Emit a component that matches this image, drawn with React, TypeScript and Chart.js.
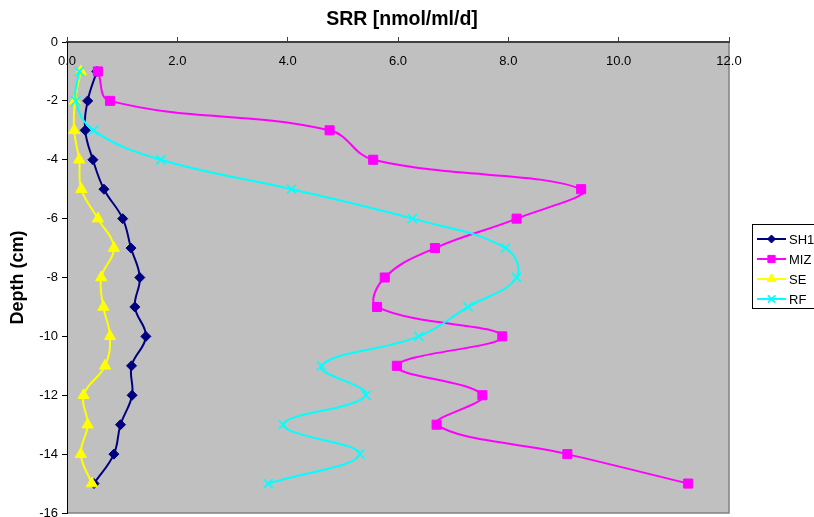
import React, { useEffect, useRef } from "react";
import { Chart, registerables, PointElement } from "chart.js";

Chart.register(...registerables);

const FONT = "Arial, 'Liberation Sans', sans-serif";

const depths = [-1, -2, -3, -4, -5, -6, -7, -8, -9, -10, -11, -12, -13, -14, -15];
const sh1 = [0.54, 0.375, 0.33, 0.47, 0.67, 1.01, 1.16, 1.32, 1.23, 1.43, 1.17, 1.18, 0.97, 0.85, 0.49];
const miz = [0.56, 0.78, 4.76, 5.55, 9.32, 8.15, 6.67, 5.76, 5.62, 7.89, 5.98, 7.53, 6.7, 9.07, 11.26];
const se = [0.25, 0.145, 0.13, 0.22, 0.26, 0.56, 0.85, 0.62, 0.66, 0.78, 0.69, 0.3, 0.375, 0.25, 0.45];
const rf = [0.22, 0.16, 0.48, 1.7, 4.07, 6.26, 7.95, 8.15, 7.27, 6.38, 4.61, 5.42, 3.92, 5.31, 3.65];

const seriesNames = ["SH1", "MIZ", "SE", "RF"];
const seriesValues = [sh1, miz, se, rf];
const seriesColors = ["#000080", "#FF00FF", "#FFFF00", "#00FFFF"];
const seriesMarkers = ["rectRot", "rect", "triangle", "crossRot"];
const seriesMarkerSizes = [5, 6.4, 6.5, 6.5];
const seriesMarkerBorders = [1, 1, 1, 1.6];

const xTicks = [0, 2, 4, 6, 8, 10, 12];
const yTicks = [0, -2, -4, -6, -8, -10, -12, -14, -16];

const plotBg = {
  id: "plotBg",
  beforeDraw(chart: any) {
    const { ctx, chartArea: a } = chart;
    ctx.save();
    ctx.fillStyle = "#C0C0C0";
    ctx.fillRect(a.left, a.top, a.right - a.left, a.bottom - a.top);
    ctx.strokeStyle = "#808080";
    ctx.lineWidth = 1.5;
    ctx.beginPath();
    ctx.moveTo(a.right, a.top);
    ctx.lineTo(a.right, a.bottom);
    ctx.lineTo(a.left, a.bottom);
    ctx.stroke();
    ctx.restore();
  },
};

const boxLegend = {
  id: "boxLegend",
  afterDraw(chart: any) {
    const { ctx } = chart;
    const left = 752.5;
    const top = 224.5;
    ctx.save();
    ctx.fillStyle = "#FFFFFF";
    ctx.fillRect(left, top, 80, 84);
    ctx.strokeStyle = "#000000";
    ctx.lineWidth = 1;
    ctx.strokeRect(left, top, 80, 84);
    chart.data.datasets.forEach((ds: any, i: number) => {
      const y = 239 + i * 20;
      ctx.strokeStyle = ds.borderColor;
      ctx.lineWidth = 2;
      ctx.beginPath();
      ctx.moveTo(757, y);
      ctx.lineTo(786, y);
      ctx.stroke();
      const pt: any = new PointElement({
        x: 771.5,
        y,
        options: {
          pointStyle: ds.pointStyle,
          radius: ds.pointRadius * 0.8,
          rotation: 0,
          borderWidth: ds.pointBorderWidth,
          backgroundColor: ds.pointBackgroundColor,
          borderColor: ds.pointBorderColor,
        },
      } as any);
      pt.draw(ctx);
      ctx.fillStyle = "#000";
      ctx.font = `13px ${FONT}`;
      ctx.textAlign = "left";
      ctx.textBaseline = "middle";
      ctx.fillText(ds.label, 789, y + 1);
    });
    ctx.restore();
  },
};

export default function App() {
  const ref = useRef<HTMLCanvasElement | null>(null);

  useEffect(() => {
    if (!ref.current) return;
    const datasets = seriesNames.map((name, i) => ({
      label: name,
      data: depths.map((d, k) => ({ x: seriesValues[i][k], y: d })),
      showLine: true,
      borderColor: seriesColors[i],
      backgroundColor: seriesColors[i],
      borderWidth: 2,
      tension: 0.4,
      pointStyle: seriesMarkers[i],
      pointRadius: seriesMarkerSizes[i],
      pointBackgroundColor: seriesColors[i],
      pointBorderColor: seriesColors[i],
      pointBorderWidth: seriesMarkerBorders[i],
      order: 3 - i,
    }));

    const chart = new Chart(ref.current, {
      type: "scatter",
      data: { datasets },
      plugins: [plotBg, boxLegend],
      options: {
        animation: false,
        responsive: false,
        events: [],
        layout: { autoPadding: false, padding: { left: 0, top: 0, right: 10, bottom: 4 } },
        plugins: {
          legend: { display: false },
          tooltip: { enabled: false },
          title: {
            display: true,
            text: "SRR [nmol/ml/d]",
            color: "#000",
            font: { family: FONT, size: 19.5, weight: "bold" },
            padding: { top: 8, bottom: 0 },
          },
        },
        scales: {
          x: {
            type: "linear",
            position: "top",
            min: xTicks[0],
            max: xTicks[xTicks.length - 1],
            afterBuildTicks: (s: any) => {
              s.ticks = xTicks.map((v) => ({ value: v }));
            },
            ticks: {
              mirror: true,
              padding: 12,
              color: "#000",
              font: { family: FONT, size: 13 },
              maxRotation: 0,
              autoSkip: false,
              callback: (v: any) => Number(v).toFixed(1),
            },
            grid: { drawOnChartArea: false, drawTicks: true, tickLength: 5, color: "#404040" },
            border: { display: true, color: "#404040", width: 2 },
            afterFit: (s: any) => {
              s.height = 42 - (8 + 19.5 * 1.2);
              s.paddingLeft = 0;
              s.paddingRight = 0;
              s.paddingTop = 0;
              s.paddingBottom = 0;
            },
          },
          y: {
            type: "linear",
            min: yTicks[yTicks.length - 1],
            max: yTicks[0],
            afterBuildTicks: (s: any) => {
              s.ticks = yTicks.map((v) => ({ value: v }));
            },
            ticks: {
              padding: 4,
              color: "#000",
              font: { family: FONT, size: 13 },
              autoSkip: false,
            },
            grid: { drawOnChartArea: false, drawTicks: true, tickLength: 5, color: "#000" },
            border: { display: true, color: "#000", width: 1 },
            title: {
              display: true,
              text: "Depth (cm)",
              color: "#000",
              font: { family: FONT, size: 18, weight: "bold" },
              padding: { top: 7, bottom: 0 },
            },
            afterFit: (s: any) => {
              s.width = 67;
              s.paddingTop = 0;
              s.paddingBottom = 0;
              s.paddingLeft = 0;
              s.paddingRight = 0;
            },
          },
          yRight: {
            type: "linear",
            position: "right",
            display: true,
            min: yTicks[yTicks.length - 1],
            max: yTicks[0],
            ticks: { display: false },
            grid: { display: false, drawTicks: false },
            border: { display: false },
            afterFit: (s: any) => {
              s.width = 75;
              s.paddingTop = 0;
              s.paddingBottom = 0;
            },
          },
        },
      } as any,
    });
    return () => chart.destroy();
  }, []);

  return (
    <div style={{ position: "absolute", left: 0, top: 0, width: 814, height: 517, background: "#fff" }}>
      <canvas ref={ref} width={814} height={517} style={{ display: "block" }} />
    </div>
  );
}
